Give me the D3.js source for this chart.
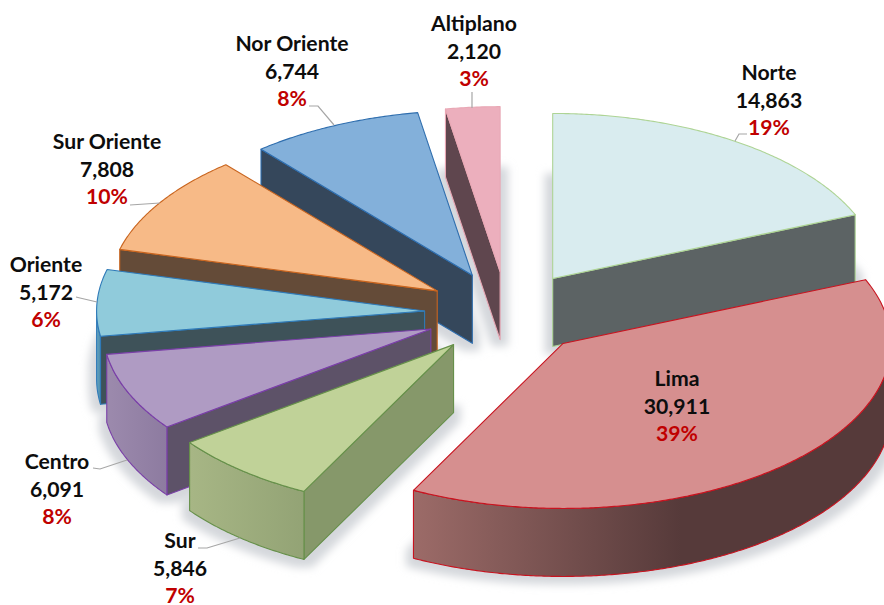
<!DOCTYPE html>
<html lang="en">
  <head>
    <meta charset="UTF-8" />
    <script src="https://d3js.org/d3.v7.min.js"></script>
    <title>Exploded 3D pie</title>
    <style>
      html, body { margin: 0; background: #fff; }
      text { font-family: Lato, "Open Sans", sans-serif; font-weight: 700; font-size: 21.2px; text-anchor: middle; }
    </style>
  </head>
  <body>
    <svg id="chart" width="884" height="605"></svg>
    <script>
      // Data
      var regions = ['Norte', 'Lima', 'Sur', 'Centro', 'Oriente', 'Sur Oriente', 'Nor Oriente', 'Altiplano'];
      var values = [14863, 30911, 5846, 6091, 5172, 7808, 6744, 2120];
      var percents = ['19%', '39%', '7%', '8%', '6%', '10%', '8%', '3%'];

      // Colours, same order as regions
      var topColors = ['#d9ecef', '#d68f8f', '#c0d298', '#af9bc3', '#90cbdb', '#f7ba87', '#83b0da', '#ecafbd'];
      var edgeColors = ['#aed495', '#c8131f', '#66904a', '#7a3fa8', '#2f7ab8', '#c9651f', '#2f6eae', '#e9a8b5'];
      var wallColors = ['#5c6364', '#5c4040', '#86986a', '#5d5268', '#3e5259', '#644b38', '#35475b', '#5f464e'];
      var rimLeft = ['#5c6364', '#9c6b68', '#a7b685', '#9c8aad', '#62a4c2', '#644b38', '#35475b', '#5f464e'];
      var rimRight = ['#5c6364', '#563a3a', '#93a375', '#8d7ba0', '#4f8cab', '#644b38', '#35475b', '#5f464e'];
      var rimStop = [1, 0.56, 1, 1, 1, 1, 1, 1];

      // Layout
      var cx = 507, cy = 313, radius = 328, tilt = 0.503, explode = 82.5, depth = 68;
      var drawOrder = [0, 7, 6, 5, 4, 3, 2, 1];
      var labelPos = [[769, 80], [677, 386], [180, 548], [57, 469], [46, 272], [107, 149], [292, 51], [474, 31]];
      var leaders = [
        [[735, 141], [739, 134], [747, 134]],
        [],
        [[240, 538], [207, 548], [198, 548]],
        [[127, 460], [100, 469], [93, 468]],
        [[97, 302], [80, 298], [76, 297]],
        [[160, 203], [130, 205]],
        [[334, 125], [318, 106], [309, 106]],
        [[472, 108], [472, 92]]
      ];

      var svg = d3.select('#chart');
      var defs = svg.append('defs');

      var x = d3.scaleLinear().domain([-1, 1]).range([-radius, radius]);
      var y = d3.scaleLinear().domain([-1, 1]).range([-radius * tilt, radius * tilt]);
      var line = d3.line();

      var slices = d3.pie().sort(null).value(function(d) { return d; })(values);

      // screen position of a point on the pie, r in 0..1, angle clockwise from the top
      function pt(s, r, a, z) {
        var mid = (s.startAngle + s.endAngle) / 2;
        return [
          cx + explode * Math.sin(mid) + x(r * Math.sin(a)),
          cy - explode * tilt * Math.cos(mid) + y(-r * Math.cos(a)) + z
        ];
      }

      function arcPts(s, a0, a1, z) {
        var n = Math.max(2, Math.ceil((a1 - a0) / 0.008));
        return d3.range(n + 1).map(function(i) {
          return pt(s, 1, a0 + (a1 - a0) * i / n, z);
        });
      }

      function sector(s, z) {
        return line([pt(s, 0, 0, z)].concat(arcPts(s, s.startAngle, s.endAngle, z))) + 'Z';
      }

      function radialWall(s, a) {
        return line([pt(s, 0, 0, 0), pt(s, 1, a, 0), pt(s, 1, a, depth), pt(s, 0, 0, depth)]) + 'Z';
      }

      function rim(s, a0, a1) {
        return line(arcPts(s, a0, a1, 0).concat(arcPts(s, a0, a1, depth).reverse())) + 'Z';
      }

      // soft shadow, thrown by the bottom face of each slice
      var shadowFilter = defs.append('filter').attr('id', 'blur')
        .attr('x', '-10%').attr('y', '-10%').attr('width', '120%').attr('height', '120%');
      shadowFilter.append('feMorphology').attr('operator', 'dilate').attr('radius', 8);
      shadowFilter.append('feGaussianBlur').attr('stdDeviation', 4);

      var shadow = svg.append('g').attr('filter', 'url(#blur)').attr('fill', '#d4d7db');
      slices.forEach(function(s) {
        shadow.append('path').attr('d', sector(s, depth));
      });

      // slices, back to front
      drawOrder.forEach(function(i) {
        var s = slices[i];
        var g = svg.append('g').attr('stroke', edgeColors[i]).attr('stroke-width', 1.1).attr('stroke-linejoin', 'round');

        // radial walls that face the viewer
        if (Math.sin(s.startAngle) < -0.001) {
          g.append('path').attr('d', radialWall(s, s.startAngle)).attr('fill', wallColors[i]);
        }
        if (Math.sin(s.endAngle) > 0.001) {
          g.append('path').attr('d', radialWall(s, s.endAngle)).attr('fill', wallColors[i]);
        }

        // outer rim, only the front half of the circle shows
        var a0 = Math.max(s.startAngle, Math.PI / 2);
        var a1 = Math.min(s.endAngle, Math.PI * 1.5);
        if (a1 > a0) {
          var grad = defs.append('linearGradient').attr('id', 'rim' + i);
          grad.append('stop').attr('offset', 0).attr('stop-color', rimLeft[i]);
          grad.append('stop').attr('offset', rimStop[i]).attr('stop-color', rimRight[i]);
          g.append('path').attr('d', rim(s, a0, a1)).attr('fill', 'url(#rim' + i + ')');
        }

        g.append('path').attr('d', sector(s, 0)).attr('fill', topColors[i]);
      });

      // leader lines
      svg.append('g').selectAll('path').data(leaders).enter().append('path')
        .attr('d', function(d) { return d.length ? line(d) : null; })
        .attr('fill', 'none').attr('stroke', '#a6a6a6').attr('stroke-width', 1.2);

      // labels: name, value, percent
      var fmt = d3.format(',');
      var labels = svg.append('g').selectAll('text').data(regions).enter().append('text')
        .attr('x', function(d, i) { return labelPos[i][0]; })
        .attr('y', function(d, i) { return labelPos[i][1]; });
      labels.append('tspan').attr('fill', '#0d0d0d').text(function(d) { return d; });
      labels.append('tspan').attr('fill', '#0d0d0d')
        .attr('x', function(d, i) { return labelPos[i][0]; }).attr('dy', 27.5)
        .text(function(d, i) { return fmt(values[i]); });
      labels.append('tspan').attr('fill', '#c00000')
        .attr('x', function(d, i) { return labelPos[i][0]; }).attr('dy', 27.5)
        .text(function(d, i) { return percents[i]; });
    </script>
  </body>
</html>
